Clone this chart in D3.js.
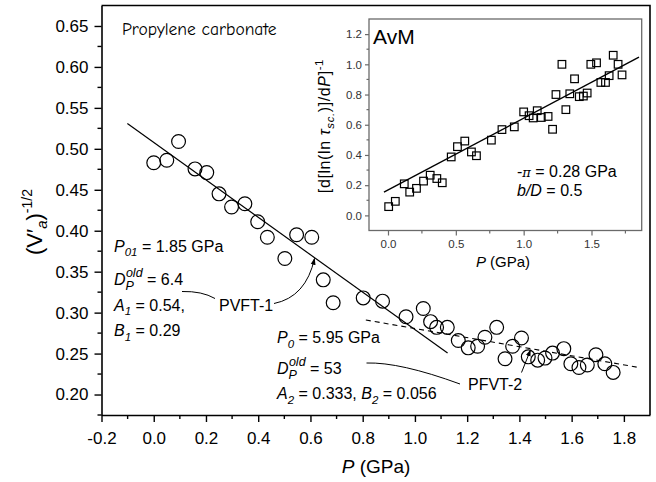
<!DOCTYPE html>
<html><head><meta charset="utf-8">
<script src="https://cdn.jsdelivr.net/npm/d3@7"></script>
<style>body{margin:0;background:#fff}svg{display:block}</style>
</head><body>
<svg id="c" width="656" height="482"></svg>
<script>
// ---------- data ----------
const pressure = [0.00,0.05,0.095,0.158,0.203,0.25,0.298,0.349,0.398,0.435,0.502,0.547,0.605,0.649,0.687,0.802,0.876,0.966,1.032,1.06,1.083,1.124,1.166,1.204,1.24,1.268,1.313,1.345,1.374,1.408,1.434,1.47,1.498,1.527,1.57,1.597,1.628,1.66,1.693,1.727,1.759];
const invSqrtV = [0.483,0.486,0.509,0.4755,0.471,0.445,0.429,0.433,0.411,0.392,0.366,0.395,0.392,0.340,0.312,0.318,0.314,0.295,0.305,0.289,0.282,0.282,0.266,0.257,0.259,0.270,0.282,0.2436,0.259,0.269,0.246,0.242,0.2445,0.2506,0.256,0.2375,0.233,0.236,0.2485,0.2375,0.227];
const fit1P = [-0.101, 1.125];
const fit1V = [0.531, 0.2506];
const fit2P = [0.812, 1.849];
const fit2V = [0.291, 0.2335];
const xTicks = [-0.2,0.0,0.2,0.4,0.6,0.8,1.0,1.2,1.4,1.6,1.8];
const yTicks = [0.20,0.25,0.30,0.35,0.40,0.45,0.50,0.55,0.60,0.65];

const insetP = [0.005,0.054,0.12,0.16,0.21,0.262,0.311,0.36,0.40,0.466,0.512,0.566,0.615,0.652,0.762,0.84,0.931,1.0,1.04,1.07,1.10,1.13,1.18,1.213,1.238,1.282,1.311,1.34,1.375,1.41,1.44,1.468,1.495,1.537,1.569,1.603,1.63,1.66,1.696,1.725];
const insetY = [0.058,0.093,0.209,0.154,0.179,0.227,0.266,0.244,0.216,0.387,0.455,0.492,0.42,0.395,0.498,0.568,0.586,0.685,0.66,0.645,0.693,0.648,0.655,0.57,0.80,1.0,0.70,0.805,0.904,0.786,0.79,0.81,1.0,1.01,0.88,0.88,0.925,1.06,1.0,0.93];
const insetFitP = [-0.03, 1.85];
const insetFitY = [0.154, 1.047];
const insetXTicks = [0.0,0.5,1.0,1.5];
const insetYTicks = [0.0,0.2,0.4,0.6,0.8,1.0,1.2];

// ---------- setup ----------
const FONT = "'Liberation Sans', Arial, Helvetica, sans-serif";
const svg = d3.select("#c").attr("font-family", FONT);

const x = d3.scaleLinear().domain([-0.2, 1.9]).range([101.5, 650]);
const y = d3.scaleLinear().domain([0.175, 0.675]).range([415, 5.5]);
const fmt = p => (d => d3.format(p)(d).replace("\u2212", "-"));

function rich(sel, px, py, parts, size) {
  const t = sel.append("text").attr("x", px).attr("y", py).attr("font-size", size);
  let off = 0;
  parts.forEach(p => {
    const ts = t.append("tspan").text(p.t);
    const target = p.shift || 0;
    if (target - off !== 0) ts.attr("dy", target - off);
    off = target;
    if (p.i) ts.attr("font-style", "italic");
    if (p.s) ts.attr("font-size", p.s);
    if (p.dx) ts.attr("dx", p.dx);
    if (p.f) ts.attr("font-family", p.f);
  });
  return t;
}

const defs = svg.append("defs");
defs.append("marker").attr("id", "arr").attr("viewBox", "0 0 10 10")
  .attr("refX", 9).attr("refY", 5).attr("markerWidth", 7).attr("markerHeight", 7)
  .attr("markerUnits", "userSpaceOnUse").attr("orient", "auto")
  .append("path").attr("d", "M0,1.5 L10,5 L0,8.5 Z").attr("fill", "#000");

// ---------- main axes ----------
const xAxis = d3.axisBottom(x).tickValues(xTicks).tickFormat(fmt(".1f"))
  .tickSize(7).tickSizeOuter(0).tickPadding(10);
const gx = svg.append("g").attr("transform", "translate(0,415)").call(xAxis);
gx.selectAll("text").attr("font-size", 17).attr("font-family", FONT).attr("fill", "#000");
gx.select(".domain").attr("stroke-width", 1.6);
gx.selectAll(".tick line").attr("stroke-width", 1.4);

const xMinor = d3.range(-0.1, 1.85, 0.2);
svg.append("g").selectAll("line").data(xMinor).join("line")
  .attr("x1", d => x(d)).attr("x2", d => x(d)).attr("y1", 415).attr("y2", 419)
  .attr("stroke", "#000").attr("stroke-width", 1.4);

const yAxis = d3.axisLeft(y).tickValues(yTicks).tickFormat(fmt(".2f"))
  .tickSize(7).tickSizeOuter(0).tickPadding(6);
const gy = svg.append("g").attr("transform", "translate(101.5,0)").call(yAxis);
gy.selectAll("text").attr("font-size", 17).attr("font-family", FONT).attr("fill", "#000");
gy.select(".domain").attr("stroke-width", 1.6);
gy.selectAll(".tick line").attr("stroke-width", 1.4);

const yMinor = d3.range(0.225, 0.675, 0.05).concat([0.175]);
svg.append("g").selectAll("line").data(yMinor).join("line")
  .attr("x1", 101.5).attr("x2", 97.5).attr("y1", d => y(d)).attr("y2", d => y(d))
  .attr("stroke", "#000").attr("stroke-width", 1.4);

// frame top & right
svg.append("path").attr("d", `M101.5,${y(0.675)} H${x(1.9)} V415`)
  .attr("fill", "none").attr("stroke", "#000").attr("stroke-width", 1.6);

// axis titles
rich(svg, 0, 0, [{t:"P", i:true}, {t:"  (GPa)"}], 19)
  .attr("transform", "translate(376,473)").attr("text-anchor", "middle");
rich(svg, 0, 0, [{t:"(V′"}, {t:"a", i:true, s:15, shift:5}, {t:")", shift:0}, {t:"-1/2", s:14, shift:-10}], 22)
  .attr("transform", "translate(42,222) rotate(-90)").attr("text-anchor", "middle");

// ---------- main marks ----------
const line = d3.line().x(d => x(d[0])).y(d => y(d[1]));
svg.append("path").datum(d3.zip(fit1P, fit1V)).attr("d", line)
  .attr("fill", "none").attr("stroke", "#000").attr("stroke-width", 1.2);
svg.append("path").datum(d3.zip(fit2P, fit2V)).attr("d", line)
  .attr("fill", "none").attr("stroke", "#000").attr("stroke-width", 1.1).attr("stroke-dasharray", "5,4");

svg.append("g").selectAll("circle").data(d3.zip(pressure, invSqrtV)).join("circle")
  .attr("cx", d => x(d[0])).attr("cy", d => y(d[1])).attr("r", 6.9)
  .attr("fill", "none").attr("stroke", "#000").attr("stroke-width", 1.2);

// ---------- annotations ----------
svg.append("text").attr("x", 122).attr("y", 35).attr("font-size", 17.5)
  .attr("font-family", "'Comic Sans MS','Comic Neue','DejaVu Sans',sans-serif").text("Propylene carbonate");

rich(svg, 114, 251.5, [{t:"P", i:true}, {t:"01", i:true, s:11.5, shift:4.5}, {t:" = 1.85 GPa", shift:0}], 16);
rich(svg, 114, 285, [{t:"D", i:true}, {t:"P", i:true, s:12.5, shift:4.5}, {t:"old", i:true, s:12.5, shift:-8.5, dx:-8}, {t:" = 6.4", shift:0}], 16);
rich(svg, 114, 310.5, [{t:"A", i:true}, {t:"1", i:true, s:11.5, shift:4.5}, {t:" = 0.54,", shift:0}], 16);
rich(svg, 114, 336, [{t:"B", i:true}, {t:"1", i:true, s:11.5, shift:4.5}, {t:" = 0.29", shift:0}], 16);
svg.append("text").attr("x", 219).attr("y", 310.5).attr("font-size", 16).text("PVFT-1");

rich(svg, 277, 343, [{t:"P", i:true}, {t:"0", i:true, s:11.5, shift:4.5}, {t:" = 5.95 GPa", shift:0}], 16);
rich(svg, 277, 374, [{t:"D", i:true}, {t:"P", i:true, s:12.5, shift:4.5}, {t:"old", i:true, s:12.5, shift:-8.5, dx:-8}, {t:" = 53", shift:0}], 16);
rich(svg, 277, 399, [{t:"A", i:true}, {t:"2", i:true, s:11.5, shift:4.5}, {t:" = 0.333, ", shift:0}, {t:"B", i:true}, {t:"2", i:true, s:11.5, shift:4.5}, {t:" = 0.056", shift:0}], 16);
svg.append("text").attr("x", 468).attr("y", 390).attr("font-size", 16).text("PFVT-2");

// leader lines
const leader = svg.append("g").attr("fill", "none").attr("stroke", "#000").attr("stroke-width", 1);
leader.append("path").attr("d", "M182,291.5 Q202,291 215,298.5");
leader.append("path").attr("d", "M274,303.5 Q306,297 314.5,258.5").attr("marker-end", "url(#arr)");
leader.append("path").attr("d", "M366.5,363 Q400,362 460,384");
leader.append("path").attr("d", "M521.5,372.5 L530.5,350").attr("marker-end", "url(#arr)");

// ---------- inset ----------
const ix = d3.scaleLinear().domain([-0.14, 1.87]).range([369, 641.7]);
const iy = d3.scaleLinear().domain([-0.1, 1.3]).range([230.5, 19]);
const GREY = "#6a6a6a";
const inset = svg.append("g");
inset.append("rect").attr("x", 369).attr("y", 19).attr("width", 641.7 - 369).attr("height", 230.5 - 19)
  .attr("fill", "#fff").attr("stroke", GREY).attr("stroke-width", 1.3);

const ixAxis = d3.axisBottom(ix).tickValues(insetXTicks).tickFormat(fmt(".1f"))
  .tickSize(5).tickSizeOuter(0).tickPadding(4);
const gix = inset.append("g").attr("transform", "translate(0,230.5)").call(ixAxis);
gix.select(".domain").remove();
gix.selectAll(".tick line").attr("stroke", GREY).attr("stroke-width", 1.2);
gix.selectAll("text").attr("font-size", 11.5).attr("font-family", FONT).attr("fill", "#333");
inset.append("g").selectAll("line").data([0.25, 0.75, 1.25, 1.75]).join("line")
  .attr("x1", d => ix(d)).attr("x2", d => ix(d)).attr("y1", 230.5).attr("y2", 233.5)
  .attr("stroke", GREY).attr("stroke-width", 1.2);

const iyAxis = d3.axisLeft(iy).tickValues(insetYTicks).tickFormat(fmt(".1f"))
  .tickSize(4).tickSizeOuter(0).tickPadding(3);
const giy = inset.append("g").attr("transform", "translate(369,0)").call(iyAxis);
giy.select(".domain").remove();
giy.selectAll(".tick line").attr("stroke", GREY).attr("stroke-width", 1.2);
giy.selectAll("text").attr("font-size", 11.5).attr("font-family", FONT).attr("fill", "#333");
inset.append("g").selectAll("line").data([0.1, 0.3, 0.5, 0.7, 0.9, 1.1]).join("line")
  .attr("x1", 369).attr("x2", 366.5).attr("y1", d => iy(d)).attr("y2", d => iy(d))
  .attr("stroke", GREY).attr("stroke-width", 1.2);

const iline = d3.line().x(d => ix(d[0])).y(d => iy(d[1]));
inset.append("path").datum(d3.zip(insetFitP, insetFitY)).attr("d", iline)
  .attr("fill", "none").attr("stroke", "#000").attr("stroke-width", 1.4);

const SQ = 7.6;
inset.append("g").selectAll("rect").data(d3.zip(insetP, insetY)).join("rect")
  .attr("x", d => ix(d[0]) - SQ / 2).attr("y", d => iy(d[1]) - SQ / 2)
  .attr("width", SQ).attr("height", SQ)
  .attr("fill", "none").attr("stroke", "#000").attr("stroke-width", 1.2);

inset.append("text").attr("x", 373).attr("y", 43.5).attr("font-size", 21).text("AvM");
rich(inset, 517, 177, [{t:"-"}, {t:"π", i:true, s:13, f:"'DejaVu Serif', serif"}, {t:" = 0.28 GPa"}], 16);
rich(inset, 517, 196, [{t:"b/D", i:true}, {t:" = 0.5"}], 16);

rich(inset, 0, 0, [{t:"P", i:true}, {t:"  (GPa)"}], 15)
  .attr("transform", "translate(503,266.5)").attr("text-anchor", "middle");
rich(inset, 0, 0, [{t:"[d[ln(ln "}, {t:"τ", i:true}, {t:"sc.", i:true, s:11.5, shift:4}, {t:")]/d", shift:0}, {t:"P", i:true}, {t:"]"}, {t:"-1", s:11.5, shift:-7}], 16)
  .attr("transform", "translate(330,126) rotate(-90)").attr("text-anchor", "middle")
  .attr("letter-spacing", 0.6);
</script>
</body></html>
